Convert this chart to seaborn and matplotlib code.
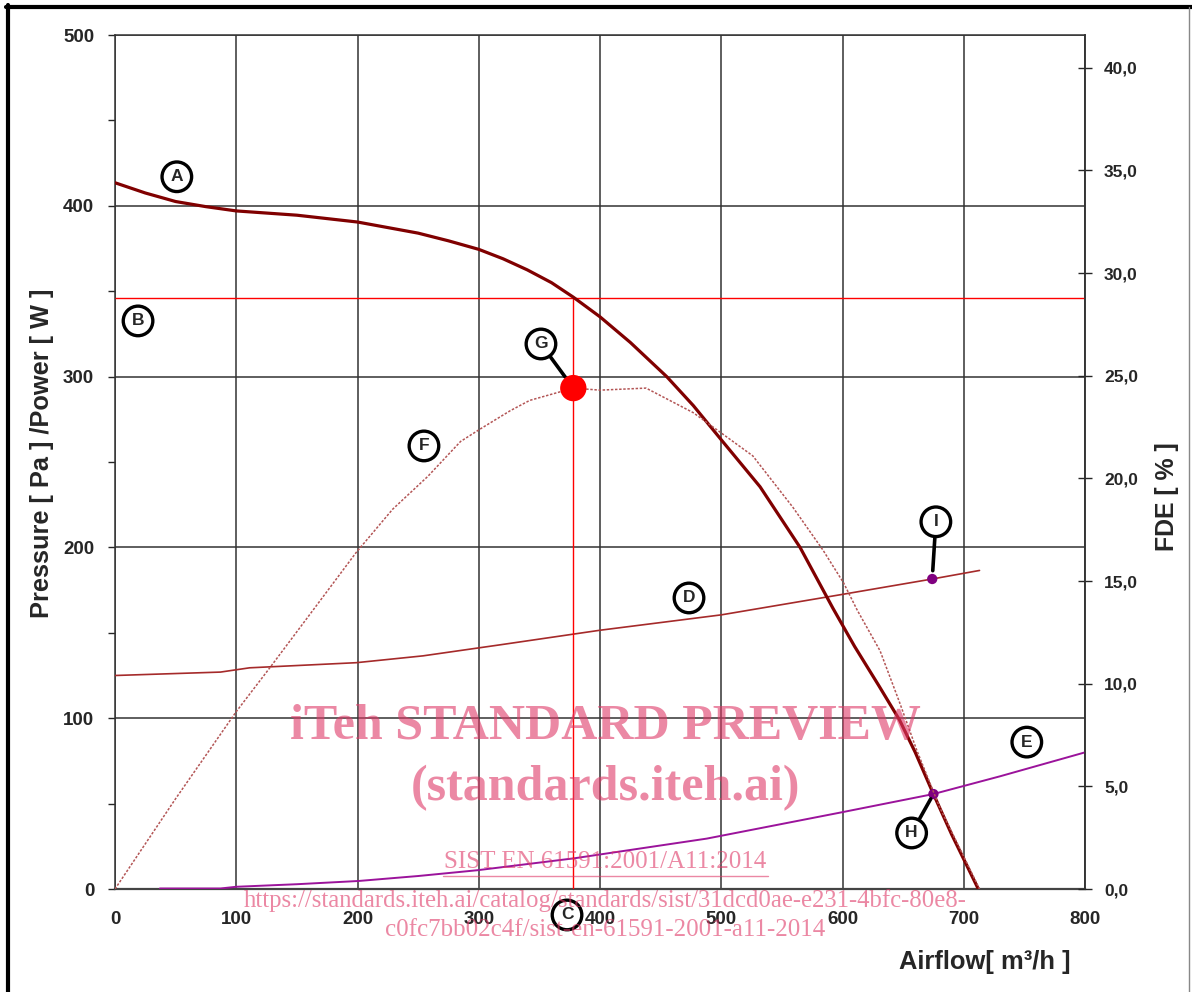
import matplotlib
matplotlib.use('Agg')
import matplotlib.pyplot as plt
from matplotlib.lines import Line2D
from matplotlib.ticker import MultipleLocator, FuncFormatter
import seaborn as sns

# Curve A: static pressure [Pa]
airflow_a = [0, 25, 50, 75, 100, 150, 200, 250, 275, 300, 320, 340, 360, 378, 400, 425, 455,
             477, 500, 532, 565, 592, 610, 630, 647, 660, 675, 690, 712]
pressure_a = [413.5, 407.5, 402.5, 399.5, 397, 394.5, 390.5, 384, 379.5, 374.5, 369, 362.5,
              355, 346.5, 335, 320, 300, 283, 263, 235.5, 200, 164.5, 142, 119, 99, 80, 55.6,
              32, 0]

# Curve D: power [W]
airflow_d = [0, 87, 111, 199, 254, 318, 400, 500, 600, 674, 713]
power_d = [125, 127, 129.5, 132.5, 136.5, 143, 151.5, 160.5, 172.5, 181.5, 186.5]

# Curve E: power [W]
airflow_e = [37, 87, 100, 150, 201, 250, 299, 379, 488, 600, 675, 730, 800]
power_e = [0.3, 0.3, 1.3, 2.8, 4.7, 7.6, 11, 18, 29.5, 45, 55.6, 66, 80]

# Curve F: FDE [%] (right axis)
airflow_f = [0, 50, 100, 128, 161, 199, 229, 258, 285, 301, 326, 342, 378, 400, 438,
             477, 526, 559, 584, 601, 612, 631, 647, 661, 680, 713]
fde_f = [0, 4.4, 8.64, 10.8, 13.4, 16.4, 18.5, 20.1, 21.8, 22.4, 23.3, 23.8, 24.4, 24.3, 24.4,
         23.2, 21.1, 18.6, 16.5, 14.9, 13.6, 11.6, 9.1, 6.8, 4.0, 0]

# duty point (B / C) and marked points G, H, I
duty_flow = 378
duty_pressure = 346
peak_flow = 378
peak_fde = 24.4
h_flow, h_power = 675, 55.6
i_flow, i_power = 674, 181.5

sns.set_style('white')
plt.rcParams['font.family'] = ['Liberation Sans', 'DejaVu Sans']
plt.rcParams['font.weight'] = 'bold'

fig = plt.figure(figsize=(11.92, 9.92), dpi=100)
ax = fig.add_axes([115 / 1192, 103 / 992, 970 / 1192, 854 / 992])
ax2 = ax.twinx()

ax.set_xlim(0, 800)
ax.set_ylim(0, 500)
ax.xaxis.set_major_locator(MultipleLocator(100))
ax.xaxis.set_minor_locator(MultipleLocator(50))
ax.yaxis.set_major_locator(MultipleLocator(100))
ax.yaxis.set_minor_locator(MultipleLocator(50))
ax.grid(True, which='major', color='#333333', lw=1.1)
ax.set_axisbelow(True)
for side in ['left', 'top', 'right']:
    ax.spines[side].set_color('#333333')
    ax.spines[side].set_linewidth(1.1)
ax.spines['bottom'].set_color('#444444')
ax.spines['bottom'].set_linewidth(1.6)
ax.tick_params(axis='y', which='both', direction='out', length=5, width=1, pad=10, labelsize=13.5)
ax.tick_params(axis='x', which='both', direction='out', length=4.5, width=1, pad=11, labelsize=13.5)

# curves
sns.lineplot(x=airflow_a, y=pressure_a, ax=ax, color='#800000', lw=2.3, zorder=4)
sns.lineplot(x=airflow_d, y=power_d, ax=ax, color='#a52a2a', lw=1.2, zorder=3)
sns.lineplot(x=airflow_e, y=power_e, ax=ax, color='#9b139b', lw=1.4, zorder=3)
ax.hlines(duty_pressure, 0, 800, color='#ff0000', lw=1.0, zorder=3)
ax.vlines(duty_flow, 0, duty_pressure, color='#ff0000', lw=1.0, zorder=3)
sns.scatterplot(x=[h_flow, i_flow], y=[h_power, i_power], ax=ax, color='#800080',
                s=55, edgecolor='none', zorder=5)

sns.lineplot(x=airflow_f, y=fde_f, ax=ax2, color='#b35555', lw=1.1,
             linestyle=(0, (1.6, 1.1)), zorder=3)
sns.scatterplot(x=[peak_flow], y=[peak_fde], ax=ax2, color='#ff0000', s=360,
                edgecolor='none', zorder=5)

ax2.set_ylim(0, 41.6)
ax2.yaxis.set_major_locator(MultipleLocator(5))
ax2.yaxis.set_major_formatter(FuncFormatter(lambda v, p: f'{v:.1f}'.replace('.', ',')))
ax2.tick_params(axis='y', which='major', direction='inout', length=9.4, width=1, pad=9,
                labelsize=12.5)
ax2.grid(False)
for side in ['left', 'top', 'bottom']:
    ax2.spines[side].set_visible(False)
ax2.spines['right'].set_color('#333333')
ax2.spines['right'].set_linewidth(1.1)

# axis titles
ax.set_ylabel('Pressure [ Pa ] /Power [ W ]', fontsize=18.3, fontweight='bold', va='center')
ax.yaxis.set_label_coords(-0.0753, 0.5105)
ax.set_xlabel('Airflow[ m³/h ]', fontsize=18.4, fontweight='bold', va='center')
ax.xaxis.set_label_coords(0.897, -0.0855)
ax2.set_ylabel('FDE [ % ]', fontsize=17.9, fontweight='bold', va='center', rotation=90)
ax2.yaxis.set_label_coords(1.0845, 0.459)

# circled letters
circle = dict(boxstyle='circle,pad=0.42', fc='none', ec='black', lw=2.4)
letters = {'A': (51, 417), 'B': (19, 332.6), 'C': (372.8, -15.2), 'D': (473.4, 170.4),
           'E': (752, 86), 'F': (254.8, 259.4)}
for letter, (lx, ly) in letters.items():
    ax.text(lx, ly, letter, ha='center', va='center', fontsize=12.5, fontweight='bold',
            bbox=circle, zorder=6, clip_on=False)

leader = dict(arrowstyle='-', lw=2.6, color='black', shrinkA=0)
ax.annotate('G', xy=(peak_flow, peak_fde), xycoords=ax2.transData, xytext=(351.3, 319.1),
            textcoords='data', ha='center', va='center', fontsize=12.5, fontweight='bold',
            bbox=circle, arrowprops=dict(leader, shrinkB=10), zorder=6)
ax.annotate('H', xy=(h_flow, h_power), xytext=(657, 32.8), ha='center', va='center',
            fontsize=12.5, fontweight='bold', bbox=circle,
            arrowprops=dict(leader, shrinkB=4), zorder=6)
ax.annotate('I', xy=(i_flow, i_power), xytext=(677, 215), ha='center', va='center',
            fontsize=12.5, fontweight='bold', bbox=circle,
            arrowprops=dict(leader, shrinkB=6), zorder=6)

# watermark
wm = dict(color='#df3967', alpha=0.6, ha='center', va='center', family='Liberation Serif')
fig.text(0.508, 0.267, 'iTeh STANDARD PREVIEW', fontsize=36, fontweight='bold', **wm)
fig.text(0.508, 0.206, '(standards.iteh.ai)', fontsize=36, fontweight='bold', **wm)
fig.text(0.508, 0.131, 'SIST EN 61591:2001/A11:2014', fontsize=18, fontweight='normal', **wm)
fig.add_artist(Line2D([443 / 1192, 768 / 1192], [0.117, 0.117], color='#df3967', alpha=0.6, lw=1))
fig.text(0.508, 0.0927, 'https://standards.iteh.ai/catalog/standards/sist/31dcd0ae-e231-4bfc-80e8-',
         fontsize=17.8, fontweight='normal', **wm)
fig.text(0.508, 0.0625, 'c0fc7bb02c4f/sist-en-61591-2001-a11-2014', fontsize=18,
         fontweight='normal', **wm)

# outer frame
fig.add_artist(Line2D([6 / 1192, 1], [1 - 7 / 992, 1 - 7 / 992], color='black', lw=3))
fig.add_artist(Line2D([8 / 1192, 8 / 1192], [0, 1 - 5 / 992], color='black', lw=3))
fig.add_artist(Line2D([1189 / 1192, 1189 / 1192], [0, 1 - 7 / 992], color='#888888', lw=1))

fig.savefig('out.png', dpi=100)
